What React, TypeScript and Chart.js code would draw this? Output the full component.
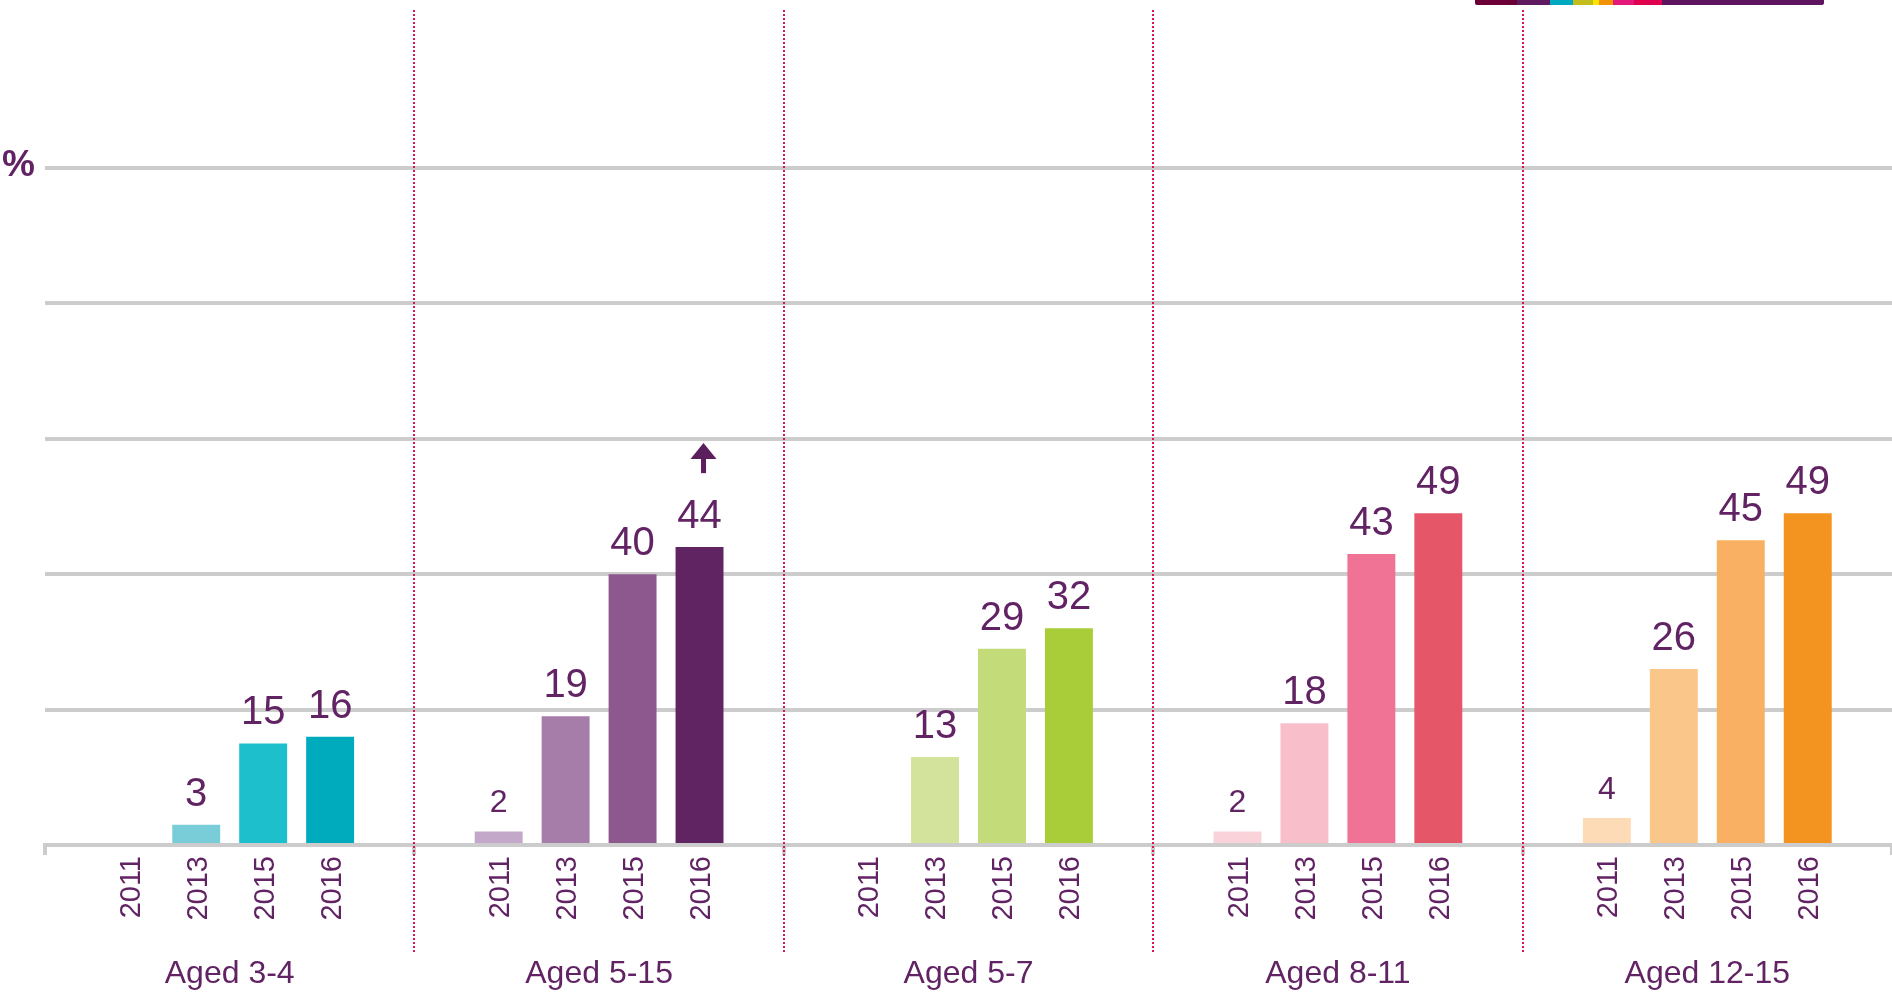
import React, { useEffect, useRef } from "react";
import { Chart, registerables } from "chart.js";

Chart.register(...registerables);

// ---- data ----
const groups = ["Aged 3-4", "Aged 5-15", "Aged 5-7", "Aged 8-11", "Aged 12-15"];
const years = ["2011", "2013", "2015", "2016"];
const values2011 = [null, 2, null, 2, 4];
const values2013 = [3, 19, 13, 18, 26];
const values2015 = [15, 40, 29, 43, 45];
const values2016 = [16, 44, 32, 49, 49];
const yTicks = [0, 20, 40, 60, 80, 100];
const increaseMarkers = [{ group: "Aged 5-15", year: "2016" }];
const axisUnit = "%";

// ---- styles ----
const colors2011 = ["#78cdd9", "#c3a8ca", "#d4e39b", "#f9d3d9", "#fddbb6"];
const colors2013 = ["#78cdd9", "#a67ca8", "#d4e39b", "#f8bfca", "#fbc68a"];
const colors2015 = ["#1dbfcd", "#8d588e", "#c4db79", "#f07294", "#fab062"];
const colors2016 = ["#00abbd", "#612463", "#a9cd38", "#e55768", "#f39320"];
const TEXT = "#612363";
const FONT = "'Liberation Sans', Arial, sans-serif";
const bandSegments = [
  { c: "#6b0037", w: 42 },
  { c: "#5f1a5f", w: 33 },
  { c: "#00a8c0", w: 23 },
  { c: "#c2bd1a", w: 20 },
  { c: "#ffe600", w: 6 },
  { c: "#f39200", w: 14 },
  { c: "#e4177b", w: 21 },
  { c: "#e0004d", w: 28 },
  { c: "#5e1560", w: 162 },
];

const overlayPlugin = {
  id: "overlay",
  afterDatasetsDraw(chart: any) {
    const ctx = chart.ctx;
    const xs = chart.scales.x;
    const area = chart.chartArea;
    ctx.save();
    // dotted separators between groups
    ctx.strokeStyle = "#d8155b";
    ctx.lineWidth = 2;
    ctx.setLineDash([2, 2]);
    for (let i = 1; i < groups.length; i++) {
      const bx = Math.round((xs.getPixelForTick(i - 1) + xs.getPixelForTick(i)) / 2);
      ctx.beginPath();
      ctx.moveTo(bx, 10);
      ctx.lineTo(bx, 952);
      ctx.stroke();
    }
    ctx.setLineDash([]);

    chart.data.datasets.forEach((ds: any, di: number) => {
      const meta = chart.getDatasetMeta(di);
      meta.data.forEach((bar: any, gi: number) => {
        // year label (rotated)
        const yf = 29;
        ctx.save();
        ctx.fillStyle = TEXT;
        ctx.font = `${yf}px ${FONT}`;
        ctx.translate(bar.x + 0.358 * yf, area.bottom + 11);
        ctx.rotate(-Math.PI / 2);
        ctx.textAlign = "right";
        ctx.textBaseline = "alphabetic";
        ctx.fillText(years[di], 0, 0);
        ctx.restore();

        const v = ds.data[gi];
        if (v == null) return;
        const fs = di === 0 ? 32 : 40;
        ctx.fillStyle = TEXT;
        ctx.font = `${fs}px ${FONT}`;
        ctx.textAlign = "center";
        ctx.textBaseline = "alphabetic";
        ctx.fillText(String(v), bar.x, bar.y - 19);
      });
    });

    // increase markers (arrow)
    increaseMarkers.forEach((m) => {
      const di = years.indexOf(m.year);
      const gi = groups.indexOf(m.group);
      const bar = chart.getDatasetMeta(di).data[gi];
      const cx = bar.x + 4;
      const tip = bar.y - 104;
      ctx.fillStyle = "#5a1f5c";
      ctx.beginPath();
      ctx.moveTo(cx, tip);
      ctx.lineTo(cx + 13, tip + 16);
      ctx.lineTo(cx - 13, tip + 16);
      ctx.closePath();
      ctx.fill();
      ctx.fillRect(cx - 2.5, tip + 15, 5, 15);
    });

    // unit label
    ctx.fillStyle = TEXT;
    ctx.font = `bold 37px ${FONT}`;
    ctx.textAlign = "left";
    ctx.textBaseline = "alphabetic";
    ctx.fillText(axisUnit, 2, area.top + 8);
    ctx.restore();
  },
};

export default function App() {
  const canvasRef = useRef<HTMLCanvasElement | null>(null);

  useEffect(() => {
    const canvas = canvasRef.current;
    if (!canvas) return;
    const chart = new Chart(canvas, {
      type: "bar",
      data: {
        labels: groups,
        datasets: [
          { label: years[0], data: values2011, backgroundColor: colors2011 },
          { label: years[1], data: values2013, backgroundColor: colors2013 },
          { label: years[2], data: values2015, backgroundColor: colors2015 },
          { label: years[3], data: values2016, backgroundColor: colors2016 },
        ] as any,
      },
      options: {
        responsive: false,
        animation: false,
        devicePixelRatio: 1,
        categoryPercentage: 0.725,
        barPercentage: 0.716,
        layout: { padding: { top: 168, left: 0, right: 0, bottom: 0 } },
        plugins: {
          legend: { display: false },
          tooltip: { enabled: false },
          title: { display: false },
        },
        scales: {
          x: {
            type: "category",
            offset: true,
            grid: {
              offset: true,
              drawOnChartArea: false,
              drawTicks: true,
              tickLength: 10,
              color: "#cccccc",
              lineWidth: 4,
            },
            border: { display: true, color: "#cccccc", width: 4 },
            ticks: {
              color: TEXT,
              font: { size: 32, family: FONT },
              padding: 100,
              maxRotation: 0,
              minRotation: 0,
              autoSkip: false,
            },
            afterFit: (s: any) => {
              s.height = 150;
            },
          },
          y: {
            min: yTicks[0],
            max: yTicks[yTicks.length - 1],
            ticks: { display: false, stepSize: yTicks[1] - yTicks[0] },
            grid: { color: "#cccccc", lineWidth: 4, drawTicks: false },
            border: { display: false },
            afterFit: (s: any) => {
              s.width = 45;
            },
          },
        },
      } as any,
      plugins: [overlayPlugin],
    });
    return () => chart.destroy();
  }, []);

  return (
    <div style={{ position: "absolute", left: 0, top: 0, width: 1892, height: 995, background: "#fff", overflow: "hidden" }}>
      <div style={{ position: "absolute", left: 1475, top: 0, height: 5, display: "flex", borderRadius: "0 0 2px 2px", overflow: "hidden" }}>
        {bandSegments.map((s, i) => (
          <div key={i} style={{ width: s.w, height: 5, background: s.c }} />
        ))}
      </div>
      <canvas ref={canvasRef} width={1892} height={995} style={{ display: "block", width: 1892, height: 995 }} />
    </div>
  );
}
